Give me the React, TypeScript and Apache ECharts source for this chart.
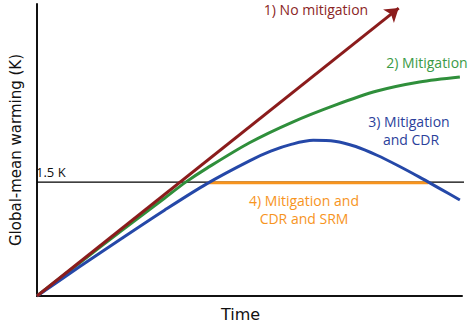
import React, { useEffect, useRef } from "react";
import * as echarts from "echarts";

// Scenario curves (time in % of window, warming in % of axis height)
const greenX = [0, 10, 20, 30, 35, 40, 50, 60, 70, 80, 90, 99.5];
const greenY = [0, 11.3, 22.5, 33.5, 39.0, 43.8, 52.5, 59.5, 65.3, 70.2, 73.3, 75.0];
const blueX = [0, 10, 20, 30, 40, 50, 55, 60, 65, 70, 75, 80, 85, 90, 95, 99.5];
const blueY = [0, 10, 19.8, 29.4, 38.5, 46.3, 49.6, 52.0, 53.3, 53.0, 51.2, 48.2, 44.6, 40.7, 36.6, 32.9];
const redStart = [0, 0];
const redEnd = [85.1, 98.6];
const orangeX = [40.1, 92.1];
const orangeY = [38.8, 38.8];
const thresholdY = 39.0;
const thresholdX = [0, 101.4];

const labels = {
  red: "1) No mitigation",
  green: "2) Mitigation",
  blue1: "3) Mitigation",
  blue2: "and CDR",
  orange1: "4) Mitigation and",
  orange2: "CDR and SRM",
  threshold: "1.5 K",
  xName: "Time",
  yName: "Global-mean warming (K)",
};

const colors = {
  red: "#8B1C1C",
  green: "#2F8F3B",
  blue: "#2548A8",
  orange: "#F7941E",
  redText: "#8B2525",
  greenText: "#3A9A46",
  blueText: "#2B3F9B",
};

const zip = (xs: number[], ys: number[]) => xs.map((x, i) => [x, ys[i]]);

export default function App() {
  const ref = useRef<HTMLDivElement>(null);
  useEffect(() => {
    if (!ref.current) return;
    const chart = echarts.init(ref.current, null, { renderer: "svg" });
    const annFont = "'Open Sans', sans-serif";
    const txt = (text: string, x: number, y: number, fill: string, size = 14, align = "center") => ({
      type: "text",
      x,
      y,
      style: { text, fill, font: `${size}px ${annFont}`, align, verticalAlign: "middle" },
    });
    chart.setOption({
      animation: false,
      grid: { left: 33, right: 14, top: 4, bottom: 36 },
      xAxis: {
        type: "value",
        min: 0,
        max: 100,
        name: labels.xName,
        nameLocation: "middle",
        nameGap: 10,
        nameTextStyle: {
          fontFamily: "DejaVu Sans",
          fontSize: 16,
          color: "#111",
          verticalAlign: "top",
          padding: [0, 18, 0, 0],
        },
        axisLine: { show: true, onZero: false, lineStyle: { color: "#111", width: 2 } },
        axisTick: { show: false },
        axisLabel: { show: false },
        splitLine: { show: false },
      },
      yAxis: {
        type: "value",
        min: 0,
        max: 100,
        name: labels.yName,
        nameLocation: "middle",
        nameRotate: 90,
        nameGap: 14,
        nameTextStyle: { fontFamily: "DejaVu Sans", fontSize: 15, color: "#111" },
        axisLine: { show: true, onZero: false, lineStyle: { color: "#111", width: 2 } },
        axisTick: { show: false },
        axisLabel: { show: false },
        splitLine: { show: false },
      },
      series: [
        {
          type: "line",
          data: zip(thresholdX, [thresholdY, thresholdY]),
          symbol: "none",
          clip: false,
          lineStyle: { color: "#000", width: 1.2 },
          z: 1,
        },
        {
          type: "line",
          data: zip(orangeX, orangeY),
          symbol: "none",
          lineStyle: { color: colors.orange, width: 3 },
          z: 2,
        },
        {
          type: "line",
          data: zip(greenX, greenY),
          symbol: "none",
          smooth: 0.3,
          lineStyle: { color: colors.green, width: 3 },
          z: 3,
        },
        {
          type: "line",
          data: zip(blueX, blueY),
          symbol: "none",
          smooth: 0.3,
          lineStyle: { color: colors.blue, width: 3 },
          z: 4,
        },
        {
          type: "line",
          data: [],
          markLine: {
            silent: true,
            symbol: ["none", "arrow"],
            symbolSize: 13,
            label: { show: false },
            lineStyle: { color: colors.red, width: 3, type: "solid" },
            data: [[{ coord: redStart }, { coord: redEnd }]],
          },
          z: 5,
        },
      ],
      graphic: [
        txt(labels.red, 316, 9, colors.redText),
        txt(labels.green, 427, 62, colors.greenText),
        txt(labels.blue1, 409, 121, colors.blueText),
        txt(labels.blue2, 411, 139, colors.blueText),
        txt(labels.orange1, 304, 200, colors.orange),
        txt(labels.orange2, 304, 218, colors.orange),
        txt(labels.threshold, 36, 172, "#111", 13, "left"),
      ],
    });
    return () => chart.dispose();
  }, []);
  return <div ref={ref} style={{ width: 476, height: 332, position: "absolute", left: 0, top: 0 }} />;
}
